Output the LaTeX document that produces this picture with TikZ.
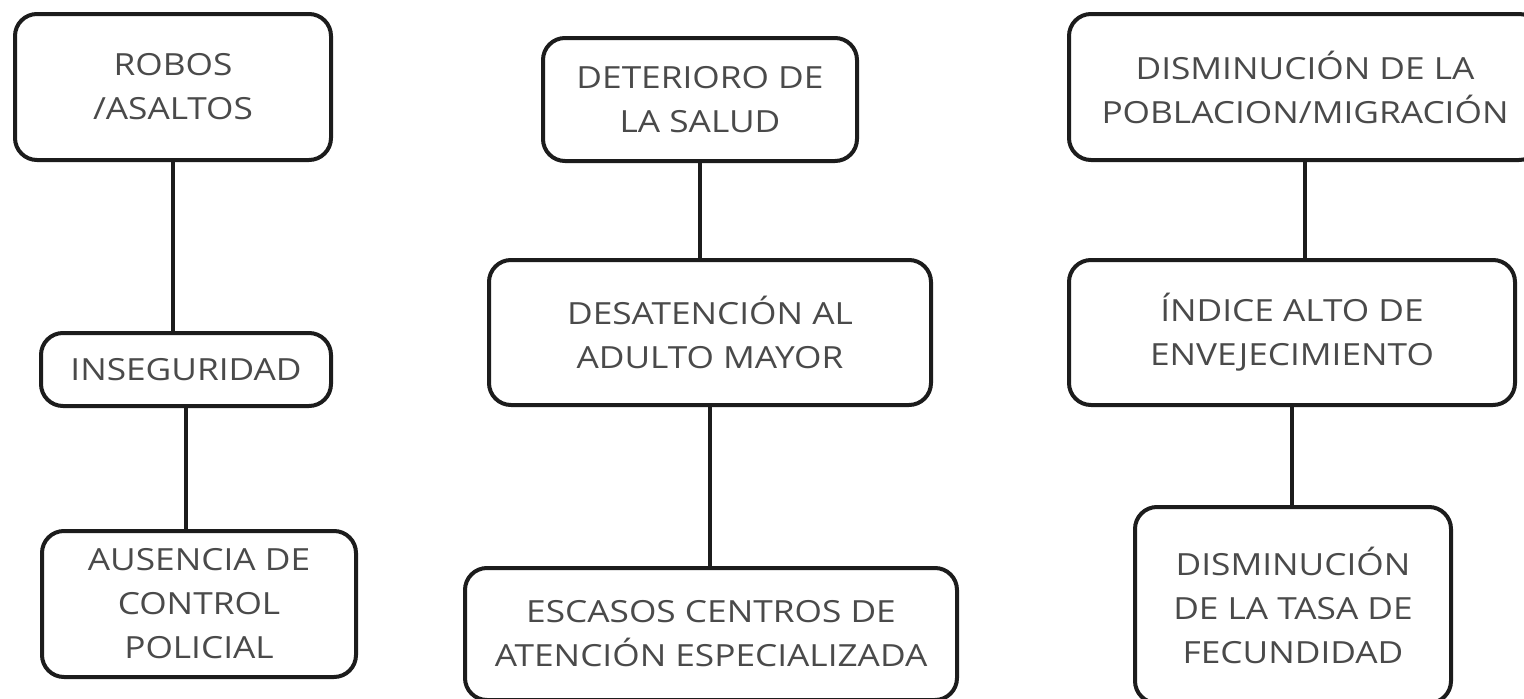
\documentclass[tikz,border=0pt]{standalone}
\usepackage{fontspec}
\setmainfont{Open Sans}[FakeStretch=1.155]
\definecolor{txtgray}{HTML}{4A4A4A}
\definecolor{edge}{HTML}{1C1C1C}
\begin{document}
\begin{tikzpicture}[x=1pt,y=-1pt,
  box/.style={draw=edge, line width=4pt, rounded corners=22pt, fill=white,
    inner sep=0pt, align=center, text=txtgray,
    font=\fontsize{30.5}{44}\selectfont},
  link/.style={draw=edge, line width=4pt}]
\useasboundingbox (0,0) rectangle (1524,699);
\fill[white] (0,0) rectangle (1524,699);
\begin{scope}
\clip (0,0) rectangle (1524,699);
% column 1
\node[box, minimum width=316pt, minimum height=146pt] (robos) at (173,87) {ROBOS\\/ASALTOS};
\node[box, minimum width=290pt, minimum height=73pt] (inseg) at (186,369.5) {INSEGURIDAD};
\node[box, minimum width=314pt, minimum height=146pt] (ausencia) at (199,604) {AUSENCIA DE\\CONTROL\\POLICIAL};
% column 2
\node[box, minimum width=314pt, minimum height=123pt] (deterioro) at (700,99.5) {DETERIORO DE\\LA SALUD};
\node[box, minimum width=442pt, minimum height=145pt] (desatencion) at (710,332.5) {DESATENCIÓN AL\\ADULTO MAYOR};
\node[box, minimum width=492pt, minimum height=132pt] (escasos) at (711,634) {ESCASOS CENTROS DE\\ATENCIÓN ESPECIALIZADA};
% column 3
\node[box, minimum width=472pt, minimum height=146pt] (dismin) at (1305,87) {DISMINUCIÓN DE LA\\POBLACION/MIGRACIÓN};
\node[box, minimum width=446pt, minimum height=145pt] (indice) at (1292,332.5) {ÍNDICE ALTO DE\\ENVEJECIMIENTO};
\node[box, minimum width=316pt, minimum height=196pt] (fecund) at (1293,605) {DISMINUCIÓN\\DE LA TASA DE\\FECUNDIDAD};
% connectors
\draw[link] (robos.south) -- (robos.south |- inseg.north);
\draw[link] (inseg.south) -- (inseg.south |- ausencia.north);
\draw[link] (deterioro.south) -- (deterioro.south |- desatencion.north);
\draw[link] (desatencion.south) -- (desatencion.south |- escasos.north);
\draw[link] (dismin.south) -- (dismin.south |- indice.north);
\draw[link] (indice.south) -- (indice.south |- fecund.north);
\end{scope}
\end{tikzpicture}
\end{document}
